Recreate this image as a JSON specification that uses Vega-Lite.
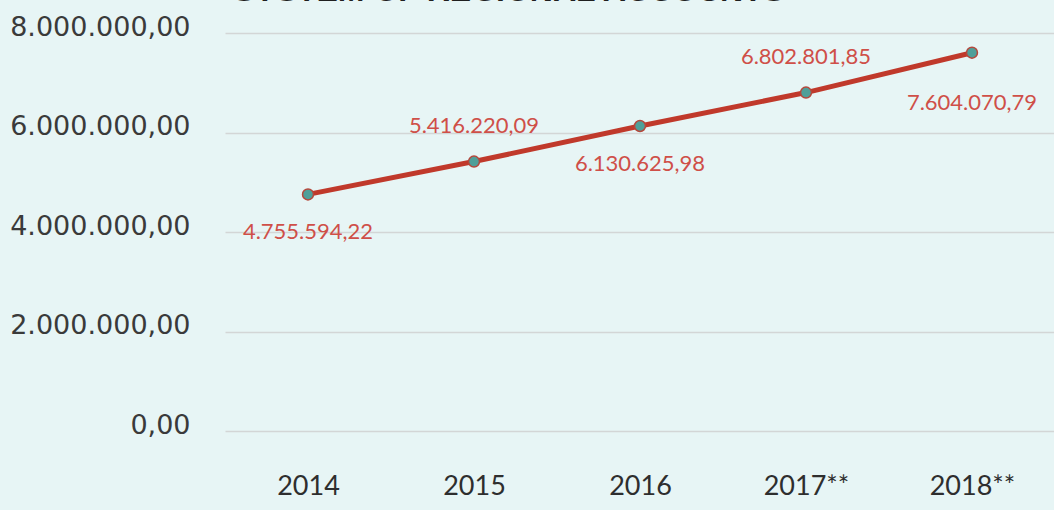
{
  "$schema": "https://vega.github.io/schema/vega-lite/v6.json",
  "autosize": "none",
  "width": 830,
  "height": 398,
  "padding": {"left": 225, "top": 33, "right": 0, "bottom": 79},
  "background": "#e7f5f5",
  "config": {
    "locale": {"number": {"decimal": ",", "thousands": ".", "grouping": [3], "currency": ["Rp", ""]}},
    "view": {"stroke": null}
  },
  "title": {
    "text": "SYSTEM OF REGIONAL ACCOUNTS",
    "font": "Liberation Sans",
    "fontSize": 32,
    "fontStyle": "italic",
    "fontWeight": "bold",
    "color": "#1f1f1f",
    "anchor": "middle",
    "dx": -130,
    "offset": 5
  },
  "data": {
    "values": [
      {"year": "2014", "value": 4755594.22},
      {"year": "2015", "value": 5416220.09},
      {"year": "2016", "value": 6130625.98},
      {"year": "2017**", "value": 6802801.85},
      {"year": "2018**", "value": 7604070.79}
    ]
  },
  "encoding": {
    "x": {
      "field": "year",
      "type": "ordinal",
      "sort": null,
      "scale": {"type": "point", "padding": 0.5},
      "axis": {
        "title": null,
        "labelAngle": 0,
        "ticks": false,
        "domain": false,
        "labelFont": "Lato",
        "labelFontSize": 27,
        "labelColor": "#2e2e2e",
        "labelPadding": 42
      }
    },
    "y": {
      "field": "value",
      "type": "quantitative",
      "scale": {"domain": [0, 8000000], "nice": false},
      "axis": {
        "title": null,
        "values": [0, 2000000, 4000000, 6000000, 8000000],
        "format": ",.2f",
        "ticks": false,
        "domain": false,
        "grid": true,
        "gridColor": "#d3d6d6",
        "gridWidth": 1.5,
        "labelFont": "DejaVu Sans",
        "labelFontSize": 27,
        "labelColor": "#3a3a3a",
        "labelPadding": 35,
        "labelLimit": 0,
        "labelOffset": -6
      }
    }
  },
  "layer": [
    {"mark": {"type": "line", "color": "#c0392b", "strokeWidth": 5}},
    {"mark": {"type": "point", "filled": true, "fill": "#4f9f99", "stroke": "#b5483c", "strokeWidth": 1.5, "size": 120, "opacity": 1}},
    {
      "transform": [{"filter": {"field": "year", "oneOf": ["2015", "2017**"]}}],
      "mark": {"type": "text", "dy": -36, "font": "Lato", "fontSize": 22, "color": "#cf4f48"},
      "encoding": {"text": {"field": "value", "type": "quantitative", "format": ",.2f"}}
    },
    {
      "transform": [{"filter": {"field": "year", "oneOf": ["2014", "2016"]}}],
      "mark": {"type": "text", "dy": 38, "font": "Lato", "fontSize": 22, "color": "#cf4f48"},
      "encoding": {"text": {"field": "value", "type": "quantitative", "format": ",.2f"}}
    },
    {
      "transform": [{"filter": {"field": "year", "oneOf": ["2018**"]}}],
      "mark": {"type": "text", "dy": 50, "font": "Lato", "fontSize": 22, "color": "#cf4f48"},
      "encoding": {"text": {"field": "value", "type": "quantitative", "format": ",.2f"}}
    }
  ]
}
